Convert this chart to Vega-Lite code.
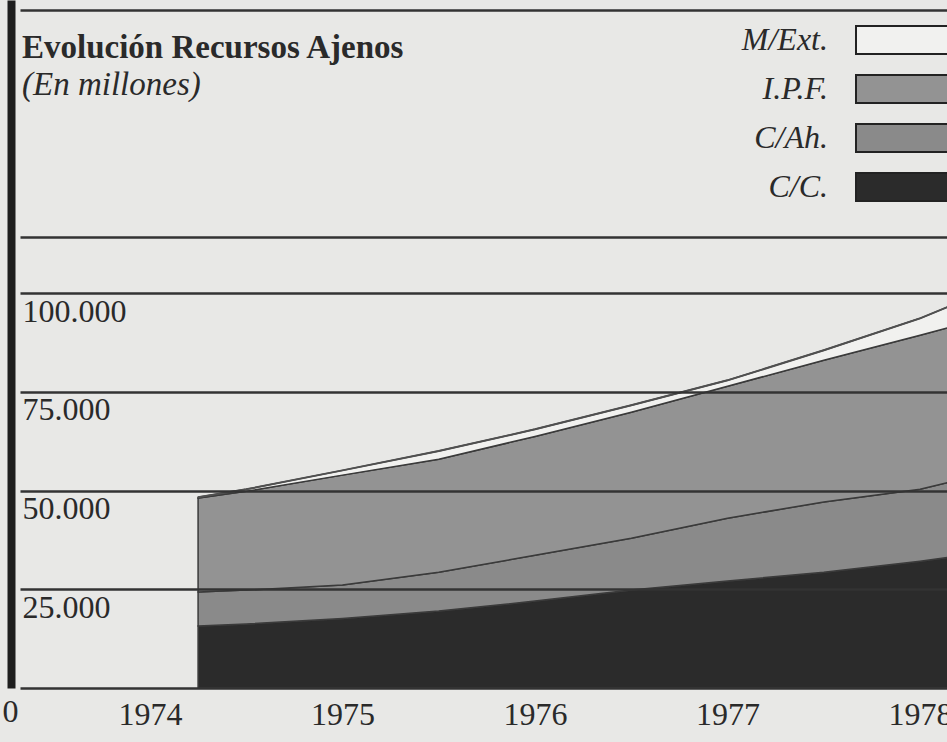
{
  "$schema": "https://vega.github.io/schema/vega-lite/v6.json",
  "width": 927,
  "height": 688,
  "autosize": {"type": "none"},
  "padding": {"left": 20, "top": 0, "right": 0, "bottom": 54},
  "background": "#e8e8e6",
  "config": {"view": {"stroke": null}, "font": "Liberation Serif"},
  "title": {
    "text": "Evolución Recursos Ajenos",
    "subtitle": "(En millones)",
    "anchor": "start",
    "frame": "group",
    "orient": "top",
    "offset": -102,
    "dx": 2,
    "font": "Liberation Serif",
    "fontSize": 33,
    "fontWeight": "bold",
    "color": "#2a2a2a",
    "subtitleFont": "Liberation Serif",
    "subtitleFontSize": 33,
    "subtitleFontStyle": "italic",
    "subtitleColor": "#2a2a2a",
    "subtitlePadding": 4
  },
  "data": {
    "values": [
      {"t": 1974.25, "serie": "C/C.", "valor": 15700},
      {"t": 1974.25, "serie": "C/Ah.", "valor": 8600},
      {"t": 1974.25, "serie": "I.P.F.", "valor": 23800},
      {"t": 1974.25, "serie": "M/Ext.", "valor": 200},
      {"t": 1974.5, "serie": "C/C.", "valor": 16200},
      {"t": 1974.5, "serie": "C/Ah.", "valor": 8600},
      {"t": 1974.5, "serie": "I.P.F.", "valor": 25000},
      {"t": 1974.5, "serie": "M/Ext.", "valor": 500},
      {"t": 1975, "serie": "C/C.", "valor": 17600},
      {"t": 1975, "serie": "C/Ah.", "valor": 8500},
      {"t": 1975, "serie": "I.P.F.", "valor": 27800},
      {"t": 1975, "serie": "M/Ext.", "valor": 1200},
      {"t": 1975.5, "serie": "C/C.", "valor": 19500},
      {"t": 1975.5, "serie": "C/Ah.", "valor": 9800},
      {"t": 1975.5, "serie": "I.P.F.", "valor": 28600},
      {"t": 1975.5, "serie": "M/Ext.", "valor": 2100},
      {"t": 1976, "serie": "C/C.", "valor": 22000},
      {"t": 1976, "serie": "C/Ah.", "valor": 11600},
      {"t": 1976, "serie": "I.P.F.", "valor": 30100},
      {"t": 1976, "serie": "M/Ext.", "valor": 1800},
      {"t": 1976.5, "serie": "C/C.", "valor": 24800},
      {"t": 1976.5, "serie": "C/Ah.", "valor": 13100},
      {"t": 1976.5, "serie": "I.P.F.", "valor": 31900},
      {"t": 1976.5, "serie": "M/Ext.", "valor": 1800},
      {"t": 1977, "serie": "C/C.", "valor": 27100},
      {"t": 1977, "serie": "C/Ah.", "valor": 15900},
      {"t": 1977, "serie": "I.P.F.", "valor": 33400},
      {"t": 1977, "serie": "M/Ext.", "valor": 1500},
      {"t": 1977.5, "serie": "C/C.", "valor": 29300},
      {"t": 1977.5, "serie": "C/Ah.", "valor": 17800},
      {"t": 1977.5, "serie": "I.P.F.", "valor": 35900},
      {"t": 1977.5, "serie": "M/Ext.", "valor": 2500},
      {"t": 1978, "serie": "C/C.", "valor": 32100},
      {"t": 1978, "serie": "C/Ah.", "valor": 18200},
      {"t": 1978, "serie": "I.P.F.", "valor": 39000},
      {"t": 1978, "serie": "M/Ext.", "valor": 4300},
      {"t": 1978.15, "serie": "C/C.", "valor": 33100},
      {"t": 1978.15, "serie": "C/Ah.", "valor": 19000},
      {"t": 1978.15, "serie": "I.P.F.", "valor": 39200},
      {"t": 1978.15, "serie": "M/Ext.", "valor": 5300}
    ]
  },
  "transform": [
    {"calculate": "indexof(['C/C.','C/Ah.','I.P.F.','M/Ext.'], datum.serie)", "as": "k"},
    {"stack": "valor", "groupby": ["t"], "sort": [{"field": "k", "order": "ascending"}], "as": ["v0", "v1"]}
  ],
  "layer": [
    {
      "mark": {"type": "area", "stroke": "#3a3a3a", "strokeWidth": 1.5, "clip": true, "opacity": 1},
      "encoding": {
        "x": {
          "field": "t",
          "type": "quantitative",
          "scale": {"domain": [1973.325, 1978.14], "nice": false, "zero": false},
          "axis": {
            "values": [1974, 1975, 1976, 1977, 1978],
            "format": "d",
            "title": null,
            "grid": false,
            "domain": false,
            "ticks": false,
            "tickSize": 0,
            "labelPadding": 11,
            "labelFont": "Liberation Serif",
            "labelFontSize": 32,
            "labelColor": "#2a2a2a",
            "labelFlush": false,
            "labelOverlap": false,
            "labelBound": false
          }
        },
        "y": {
          "field": "v1",
          "type": "quantitative",
          "scale": {"domain": [0, 174200], "nice": false, "zero": true},
          "axis": {
            "values": [0, 25000, 50000, 75000, 100000, 114200, 171600],
            "title": null,
            "grid": true,
            "gridColor": "#333333",
            "gridWidth": 2.5,
            "domain": true,
            "domainColor": "#1e1e1e",
            "domainWidth": 8,
            "offset": 9,
            "ticks": false,
            "tickSize": 0,
            "labelAlign": "left",
            "labelBaseline": "top",
            "labelFont": "Liberation Serif",
            "labelFontSize": 32,
            "labelColor": "#2a2a2a",
            "labelPadding": {"condition": {"test": "datum.value == 0", "value": 9}, "value": -11},
            "labelOffset": {"condition": {"test": "datum.value == 0", "value": 8}, "value": 3},
            "labelExpr": "datum.value > 100000 ? '' : replace(format(datum.value, ','), ',', '.')",
            "labelOverlap": false,
            "labelBound": false,
            "labelFlush": false,
            "zindex": 1
          }
        },
        "y2": {"field": "v0"},
        "color": {
          "field": "serie",
          "type": "nominal",
          "scale": {
            "domain": ["M/Ext.", "I.P.F.", "C/Ah.", "C/C."],
            "range": ["#f1f1ef", "#939393", "#8a8a8a", "#2b2b2b"]
          },
          "legend": {
            "orient": "none",
            "legendX": 834,
            "legendY": 24,
            "title": null,
            "padding": 0,
            "symbolType": "M-1,-1H6.2V1H-1Z",
            "symbolSize": 784,
            "symbolStrokeColor": "#222222",
            "symbolStrokeWidth": 2,
            "symbolOpacity": 1,
            "labelFont": "Liberation Serif",
            "labelFontStyle": "italic",
            "labelFontSize": 32,
            "labelColor": "#2a2a2a",
            "labelAlign": "right",
            "labelOffset": -58,
            "labelLimit": 0,
            "rowPadding": 13
          }
        }
      }
    },
    {
      "mark": {"type": "line", "color": "#505050", "strokeWidth": 2, "clip": true},
      "transform": [{"filter": "datum.serie == 'M/Ext.'"}],
      "encoding": {
        "x": {"field": "t", "type": "quantitative"},
        "y": {"field": "v1", "type": "quantitative"}
      }
    }
  ]
}
